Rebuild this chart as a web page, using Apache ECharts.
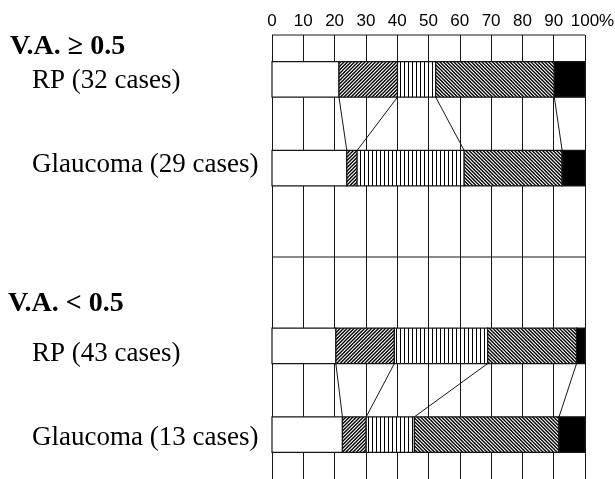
<!DOCTYPE html>
<html>
<head>
<meta charset="utf-8">
<script src="https://cdn.jsdelivr.net/npm/echarts@6/dist/echarts.min.js"></script>
<style>
  html, body { margin: 0; padding: 0; background: #fff; }
  #chart { width: 615px; height: 479px; }
</style>
</head>
<body>
<div id="chart"></div>
<script>
// Distribution of visual-field categories (percent of cases), per group.
const rowLabels = ['RP (32 cases)', 'Glaucoma (29 cases)', 'RP (43 cases)', 'Glaucoma (13 cases)'];
const groupLabels = ['V.A. \u2265 0.5', 'V.A. < 0.5'];
const axisUnit = '%';

// Segment shares (%) for each row, left to right.
const blank    = [21.4, 23.9, 20.4, 22.5];
const hatchFwd = [18.7,  3.3, 18.7,  7.6];
const striped  = [12.2, 34.2, 29.8, 15.4];
const hatchBack= [37.9, 31.3, 28.4, 46.2];
const solid    = [ 9.8,  7.3,  2.7,  8.3];

const tickStep = 10;

// ---- layout (y in row units, 0 at the top of the plot) ----
const rowTop = [1.5, 6.5, 16.5, 21.5];
const barH = 2;
const ruleYs = [0, 12.5];
const pairs = [[0, 1], [2, 3]];   // RP row -> Glaucoma row in each group

// Fill textures
function makeTile(kind) {
  const T = kind === 'vert' ? 4 : 7;
  const c = document.createElement('canvas');
  c.width = T; c.height = T;
  const g = c.getContext('2d');
  g.fillStyle = '#fff';
  g.fillRect(0, 0, T, T);
  g.fillStyle = '#000';
  g.strokeStyle = '#000';
  if (kind === 'vert') {
    g.fillRect(0, 0, 1, T);
  } else {
    g.lineWidth = 1.35;
    for (let k = -2 * T; k <= 2 * T; k += 3.5) {
      g.beginPath();
      if (kind === 'fwd') {
        g.moveTo(k + 1, -1); g.lineTo(k - T - 1, T + 1);
      } else {
        g.moveTo(k - 1, -1); g.lineTo(k + T + 1, T + 1);
      }
      g.stroke();
    }
  }
  return { image: c, repeat: 'repeat' };
}
const fills = ['#ffffff', makeTile('fwd'), makeTile('vert'), makeTile('back'), '#000000'];
const segSeries = [blank, hatchFwd, striped, hatchBack, solid];

// Segment items: [row, start, end, fillIndex]
const segItems = [];
const cumEdges = [];
rowLabels.forEach((_, r) => {
  let acc = 0;
  const edges = [];
  segSeries.forEach((arr, k) => {
    const start = acc;
    acc += arr[r];
    const end = k === segSeries.length - 1 ? 100 : acc;
    segItems.push([r, start, end, k]);
    if (k < segSeries.length - 1) edges.push(acc);
  });
  cumEdges.push(edges);
});

// Connector items: [upperRow, upperValue, lowerValue, lowerRow]
const linkItems = [];
pairs.forEach(([a, b]) => {
  cumEdges[a].forEach((v, i) => linkItems.push([a, v, cumEdges[b][i], b]));
});

const chart = echarts.init(document.getElementById('chart'), null, { renderer: 'canvas' });
const ink = '#161616';

chart.setOption({
  animation: false,
  backgroundColor: '#fff',
  grid: { left: 272, right: 30, top: 35, bottom: 0, outerBoundsMode: 'none', containLabel: false },
  xAxis: {
    type: 'value', min: 0, max: 100, interval: tickStep, position: 'top',
    // unit sign sits just after the "100" label
    name: axisUnit, nameLocation: 'end', nameGap: 14, nameMoveOverlap: false,
    nameTextStyle: { color: '#000', fontFamily: 'Liberation Sans', fontSize: 17,
                     align: 'left', verticalAlign: 'bottom', padding: [0, 0, 5, 0] },
    axisLine: { show: false }, axisTick: { show: false },
    axisLabel: {
      margin: 5, color: '#000', fontFamily: 'Liberation Sans', fontSize: 17,
      showMinLabel: true, showMaxLabel: true
    },
    splitLine: { show: true, showMinLine: true, showMaxLine: true, lineStyle: { color: ink, width: 1 } }
  },
  yAxis: { type: 'value', min: 0, max: 25, inverse: true, show: false, splitLine: { show: false } },
  graphic: [
    { type: 'text', left: 10, top: 33, style: { text: groupLabels[0], font: 'bold 28px "Liberation Serif"', fill: '#000' } },
    { type: 'text', left: 32, top: 67, style: { text: rowLabels[0], font: '27px "Liberation Serif"', fill: '#000' } },
    { type: 'text', left: 32, top: 151, style: { text: rowLabels[1], font: '27px "Liberation Serif"', fill: '#000' } },
    { type: 'text', left: 8, top: 290, style: { text: groupLabels[1], font: 'bold 28px "Liberation Serif"', fill: '#000' } },
    { type: 'text', left: 32, top: 340, style: { text: rowLabels[2], font: '27px "Liberation Serif"', fill: '#000' } },
    { type: 'text', left: 32, top: 424, style: { text: rowLabels[3], font: '27px "Liberation Serif"', fill: '#000' } }
  ],
  series: [
    {
      type: 'custom', name: 'rules', z: 1, silent: true,
      data: ruleYs.map(y => [y]),
      renderItem: (params, api) => {
        const y = api.value(0);
        const p0 = api.coord([0, y]);
        const p1 = api.coord([100, y]);
        return { type: 'line', shape: { x1: p0[0], y1: p0[1], x2: p1[0], y2: p1[1] },
                 style: { stroke: ink, lineWidth: 1 } };
      }
    },
    {
      type: 'custom', name: 'segments', z: 2, silent: true,
      data: segItems,
      renderItem: (params, api) => {
        const r = api.value(0);
        const a = api.coord([api.value(1), rowTop[r]]);
        const b = api.coord([api.value(2), rowTop[r] + barH]);
        return { type: 'rect', shape: { x: a[0], y: a[1], width: b[0] - a[0], height: b[1] - a[1] },
                 style: { fill: fills[api.value(3)], stroke: ink, lineWidth: 1.2 } };
      }
    },
    {
      type: 'custom', name: 'links', z: 3, silent: true,
      data: linkItems,
      renderItem: (params, api) => {
        const r = api.value(0);
        const lower = api.value(3);
        const p0 = api.coord([api.value(1), rowTop[r] + barH]);
        const p1 = api.coord([api.value(2), rowTop[lower]]);
        return { type: 'line', shape: { x1: p0[0], y1: p0[1], x2: p1[0], y2: p1[1] },
                 style: { stroke: ink, lineWidth: 1 } };
      }
    }
  ]
});
</script>
</body>
</html>
